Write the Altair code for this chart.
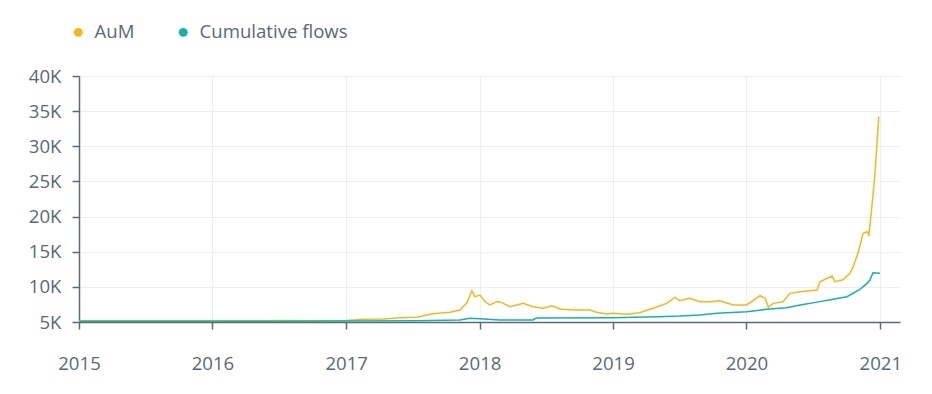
import altair as alt
import pandas as pd

aum_dates = [
    "2015-01-01", "2015-08-01", "2016-01-01", "2016-05-20", "2016-07-01", "2016-10-20",
    "2017-01-01", "2017-02-16", "2017-04-15", "2017-05-28", "2017-07-13", "2017-08-26",
    "2017-10-12", "2017-11-08", "2017-11-27", "2017-12-11", "2017-12-19", "2018-01-02",
    "2018-01-16", "2018-01-29", "2018-02-17", "2018-02-25", "2018-03-25", "2018-04-30",
    "2018-05-27", "2018-06-24", "2018-07-18", "2018-08-09", "2018-09-13", "2018-10-29",
    "2018-11-17", "2018-12-14", "2019-01-01", "2019-02-08", "2019-03-15", "2019-04-20",
    "2019-05-28", "2019-06-19", "2019-07-03", "2019-07-30", "2019-08-27", "2019-09-23",
    "2019-10-20", "2019-11-25", "2020-01-01", "2020-01-19", "2020-02-07", "2020-02-21",
    "2020-03-01", "2020-03-14", "2020-04-10", "2020-04-29", "2020-05-27", "2020-07-12",
    "2020-07-20", "2020-08-22", "2020-08-30", "2020-09-21", "2020-10-10", "2020-10-19",
    "2020-11-01", "2020-11-15", "2020-11-26", "2020-12-01", "2020-12-09", "2020-12-17",
    "2020-12-23", "2020-12-28",
]
aum_values = [
    5180, 5180, 5180, 5190, 5200, 5180,
    5200, 5380, 5420, 5610, 5670, 6180,
    6380, 6710, 7700, 9450, 8600, 8840,
    7890, 7420, 7890, 7890, 7180, 7650,
    7180, 6950, 7320, 6850, 6710, 6710,
    6380, 6140, 6240, 6090, 6330, 6950,
    7650, 8500, 8030, 8370, 7890, 7890,
    8030, 7420, 7420, 8030, 8740, 8370,
    7090, 7650, 7890, 9080, 9320, 9550,
    10730, 11540, 10730, 11000, 11920, 12870,
    14770, 17620, 17850, 17380, 21410, 25680,
    30420, 34210,
]

flow_dates = [
    "2015-01-01", "2016-05-20", "2016-07-01", "2017-01-01", "2017-07-13", "2017-11-08",
    "2017-12-05", "2018-01-02", "2018-02-25", "2018-05-27", "2018-06-05", "2018-12-31",
    "2019-05-01", "2019-07-03", "2019-08-27", "2019-10-12", "2020-01-01", "2020-02-25",
    "2020-04-20", "2020-05-27", "2020-07-20", "2020-08-25", "2020-10-02", "2020-11-06",
    "2020-11-26", "2020-12-04", "2020-12-12", "2020-12-31",
]
flow_values = [
    5100, 5100, 5120, 5130, 5190, 5280,
    5520, 5470, 5300, 5300, 5560, 5620,
    5760, 5850, 6000, 6240, 6470, 6800,
    7040, 7420, 7900, 8230, 8600, 9650,
    10500, 11000, 12000, 11920,
]

series_names = ["AuM", "Cumulative flows"]
series_colors = ["#F7B718", "#12B3A8"]
y_ticks = [5000, 10000, 15000, 20000, 25000, 30000, 35000, 40000]

df = pd.concat([
    pd.DataFrame({"date": aum_dates, "value": aum_values, "series": series_names[0]}),
    pd.DataFrame({"date": flow_dates, "value": flow_values, "series": series_names[1]}),
])

label_color = "#5B6975"
axis_color = "#5B6A76"

x_enc = alt.X(
    "date:T",
    scale=alt.Scale(type="utc", domain=["2015-01-01", "2021-02-24"]),
    axis=alt.Axis(
        title=None, format="%Y", tickCount={"interval": "year", "step": 1},
        labelPadding=25, tickSize=7, labelFlush=False, labelOverlap=False,
    ),
)
y_enc = alt.Y(
    "value:Q",
    scale=alt.Scale(domain=[5000, 40000], nice=False),
    axis=alt.Axis(
        title=None, values=y_ticks, labelExpr="datum.value / 1000 + 'K'",
        labelPadding=11, tickSize=7,
    ),
)
color_scale = alt.Scale(domain=series_names, range=series_colors)

base = alt.Chart(df)

legend_layer = base.mark_point(filled=True, opacity=0, size=0).encode(
    x=x_enc, y=y_enc,
    color=alt.Color(
        "series:N", scale=color_scale, sort=series_names,
        legend=alt.Legend(
            title=None, orient="none", direction="horizontal",
            legendX=-10, legendY=-53, symbolType="circle", symbolSize=80,
            symbolOpacity=1, symbolStrokeWidth=0,
            labelFontSize=18.6, labelColor=label_color,
            labelFont="Open Sans", columnPadding=39, labelOffset=7,
        ),
    ),
)

lines = base.mark_line(strokeWidth=1.5, interpolate="linear").encode(
    x=x_enc, y=y_enc,
    color=alt.Color("series:N", scale=color_scale, sort=series_names, legend=None),
)

chart = alt.layer(legend_layer, lines).properties(
    width=821, height=246,
    autosize=alt.AutoSizeParams(type="none"),
    padding={"left": 71, "top": 68, "right": 24, "bottom": 64},
).configure_axis(
    labelFont="Open Sans", labelFontSize=18.6, labelColor=label_color,
    domainColor=axis_color, domainWidth=1.5, tickColor=axis_color, tickWidth=1.5,
    gridColor="#EEEEEE", gridWidth=1,
).configure_view(stroke=None)

chart.save("out.html", embed_options={"renderer": "svg", "actions": False})
